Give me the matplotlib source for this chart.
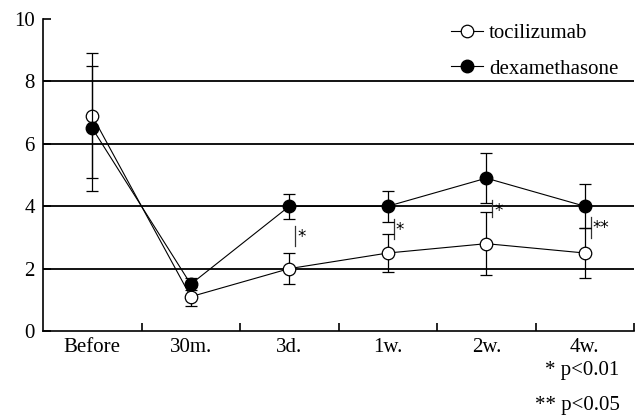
import numpy as np
import matplotlib
matplotlib.use("Agg")
import matplotlib.pyplot as plt

plt.rcParams['font.family'] = ['Liberation Serif', 'DejaVu Serif']

# time points
CATEGORIES = ["Before", "30m.", "3d.", "1w.", "2w.", "4w."]

# mean values and error bars
toc_mean = [6.9, 1.1, 2.0, 2.5, 2.8, 2.5]
toc_err = [2.0, 0.3, 0.5, 0.6, 1.0, 0.8]
dex_mean = [6.5, 1.5, 4.0, 4.0, 4.9, 4.0]
dex_err = [2.0, 0.2, 0.4, 0.5, 0.8, 0.7]

# significance brackets: (category index, low, high, label)
sig_x = [2, 3, 4, 5]
sig_low = [2.72, 2.95, 3.65, 2.98]
sig_high = [3.37, 3.60, 4.20, 3.66]
sig_label = ["*", "*", "*", "**"]

GRID_VALUES = [2, 4, 6, 8]


def draw():
    fig = plt.figure(figsize=(6.36, 4.15), dpi=100)
    ax = fig.add_axes([0.0676, 0.2024, 0.9294, 0.7516])
    x = np.arange(len(CATEGORIES))

    for g in GRID_VALUES:
        ax.axhline(g, color='black', lw=1.3, zorder=1)

    ax.errorbar(x, toc_mean, yerr=toc_err, color='black', lw=0.8,
                elinewidth=0.9, capsize=4, capthick=0.9, marker='o',
                markersize=9, markerfacecolor='white',
                markeredgecolor='black', markeredgewidth=0.9,
                label='tocilizumab', zorder=3)
    ax.errorbar(x, dex_mean, yerr=dex_err, color='black', lw=0.8,
                elinewidth=0.9, capsize=4, capthick=0.9, marker='o',
                markersize=9, markerfacecolor='black',
                markeredgecolor='black', label='dexamethasone', zorder=4)

    for i, lo, hi, lab in zip(sig_x, sig_low, sig_high, sig_label):
        ax.plot([i + 0.06, i + 0.06], [lo, hi], color='#333333', lw=0.9,
                zorder=2)
        ax.text(i + 0.08, hi - 0.08, lab, fontsize=12, va='top',
                ha='left', family='DejaVu Sans')

    ax.set_xlim(-0.5, 5.5)
    ax.set_ylim(0, 10)
    ax.set_yticks([0, 2, 4, 6, 8, 10])
    ax.set_xticks(np.arange(0.5, 6.0, 1.0))
    ax.set_xticklabels([])
    ax.set_xticks(x, minor=True)
    ax.set_xticklabels(CATEGORIES, minor=True)
    ax.tick_params(axis='x', which='major', direction='in', length=6,
                   width=1.2)
    ax.tick_params(axis='x', which='minor', length=0, pad=5, labelsize=15)
    ax.tick_params(axis='y', direction='in', length=6, width=1.2, pad=6,
                   labelsize=15)

    ax.spines['top'].set_visible(False)
    ax.spines['right'].set_visible(False)
    ax.spines['left'].set_linewidth(1.2)
    ax.spines['bottom'].set_linewidth(1.2)

    handles, labels = ax.get_legend_handles_labels()
    handles = [h[0] for h in handles]
    ax.legend(handles, labels, loc='upper right', frameon=False,
              fontsize=15, handlelength=1.5, handletextpad=0.3,
              labelspacing=0.75, bbox_to_anchor=(1.005, 1.045))

    fig.text(0.974, 0.108, "* p<0.01", ha='right', va='center', fontsize=15)
    fig.text(0.974, 0.024, "** p<0.05", ha='right', va='center', fontsize=15)

    fig.savefig("out.png", dpi=100)


if __name__ == '__main__':
    draw()
